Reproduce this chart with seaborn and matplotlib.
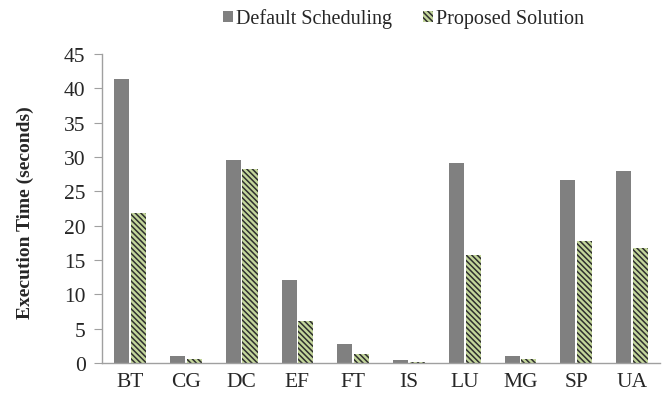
import matplotlib
matplotlib.use("Agg")
import matplotlib.pyplot as plt
import seaborn as sns
import pandas as pd

categories = ["BT", "CG", "DC", "EF", "FT", "IS", "LU", "MG", "SP", "UA"]
default_sched = [41.3, 1.1, 29.5, 12.1, 2.8, 0.5, 29.1, 1.0, 26.6, 28.0]
proposed = [21.8, 0.6, 28.2, 6.1, 1.4, 0.2, 15.8, 0.6, 17.7, 16.8]
series_names = ["Default Scheduling", "Proposed Solution"]
yticks = [0, 5, 10, 15, 20, 25, 30, 35, 40, 45]

df = pd.DataFrame({
    "Benchmark": categories * 2,
    "Series": [series_names[0]] * len(categories) + [series_names[1]] * len(categories),
    "Time": default_sched + proposed,
})

sns.set_style("white")
plt.rcParams["font.family"] = ["Liberation Serif", "DejaVu Serif"]
plt.rcParams["hatch.linewidth"] = 1.1
plt.rcParams["hatch.color"] = "#2e2e2e"

HATCH = "\\" * 6

fig = plt.figure(figsize=(6.68, 4.06), dpi=100)
ax = fig.add_axes([0.153, 0.103, 0.835, 0.762])

sns.barplot(data=df, x="Benchmark", y="Time", hue="Series",
            palette=["#808080", "#c3d69b"], width=0.6, gap=0.1,
            ax=ax, errorbar=None, saturation=1)

for bar in ax.containers[1]:
    bar.set_hatch(HATCH)
    bar.set_edgecolor("#2e2e2e")
    bar.set_linewidth(0)
for bar in ax.containers[0]:
    bar.set_linewidth(0)

ax.set_xlim(-0.5, 9.5)
ax.set_ylim(0, 45)
ax.set_yticks(yticks)
ax.set_xlabel("")
ax.set_ylabel("Execution Time (seconds)", fontsize=14, fontweight="bold")
ax.yaxis.set_label_coords(-0.122, 0.49)
ax.tick_params(axis="y", labelsize=15.5, length=6, color="#a0a0a0", direction="out", left=True, pad=6)
ax.tick_params(axis="x", labelsize=15.5, length=0, pad=6)
for s in ["top", "right"]:
    ax.spines[s].set_visible(False)
for s in ["left", "bottom"]:
    ax.spines[s].set_color("#a0a0a0")
    ax.spines[s].set_linewidth(1)

handles, labels = ax.get_legend_handles_labels()
handles[1].set_hatch(HATCH)
handles[1].set_edgecolor("#2e2e2e")
handles[1].set_linewidth(0)
handles[0].set_linewidth(0)
ax.legend(handles, labels, loc="upper center", bbox_to_anchor=(0.54, 1.205), ncol=2,
          frameon=False, fontsize=14.5, handlelength=0.5, handleheight=0.5,
          handletextpad=0.15, columnspacing=1.5)

fig.savefig("out.png", dpi=100)
